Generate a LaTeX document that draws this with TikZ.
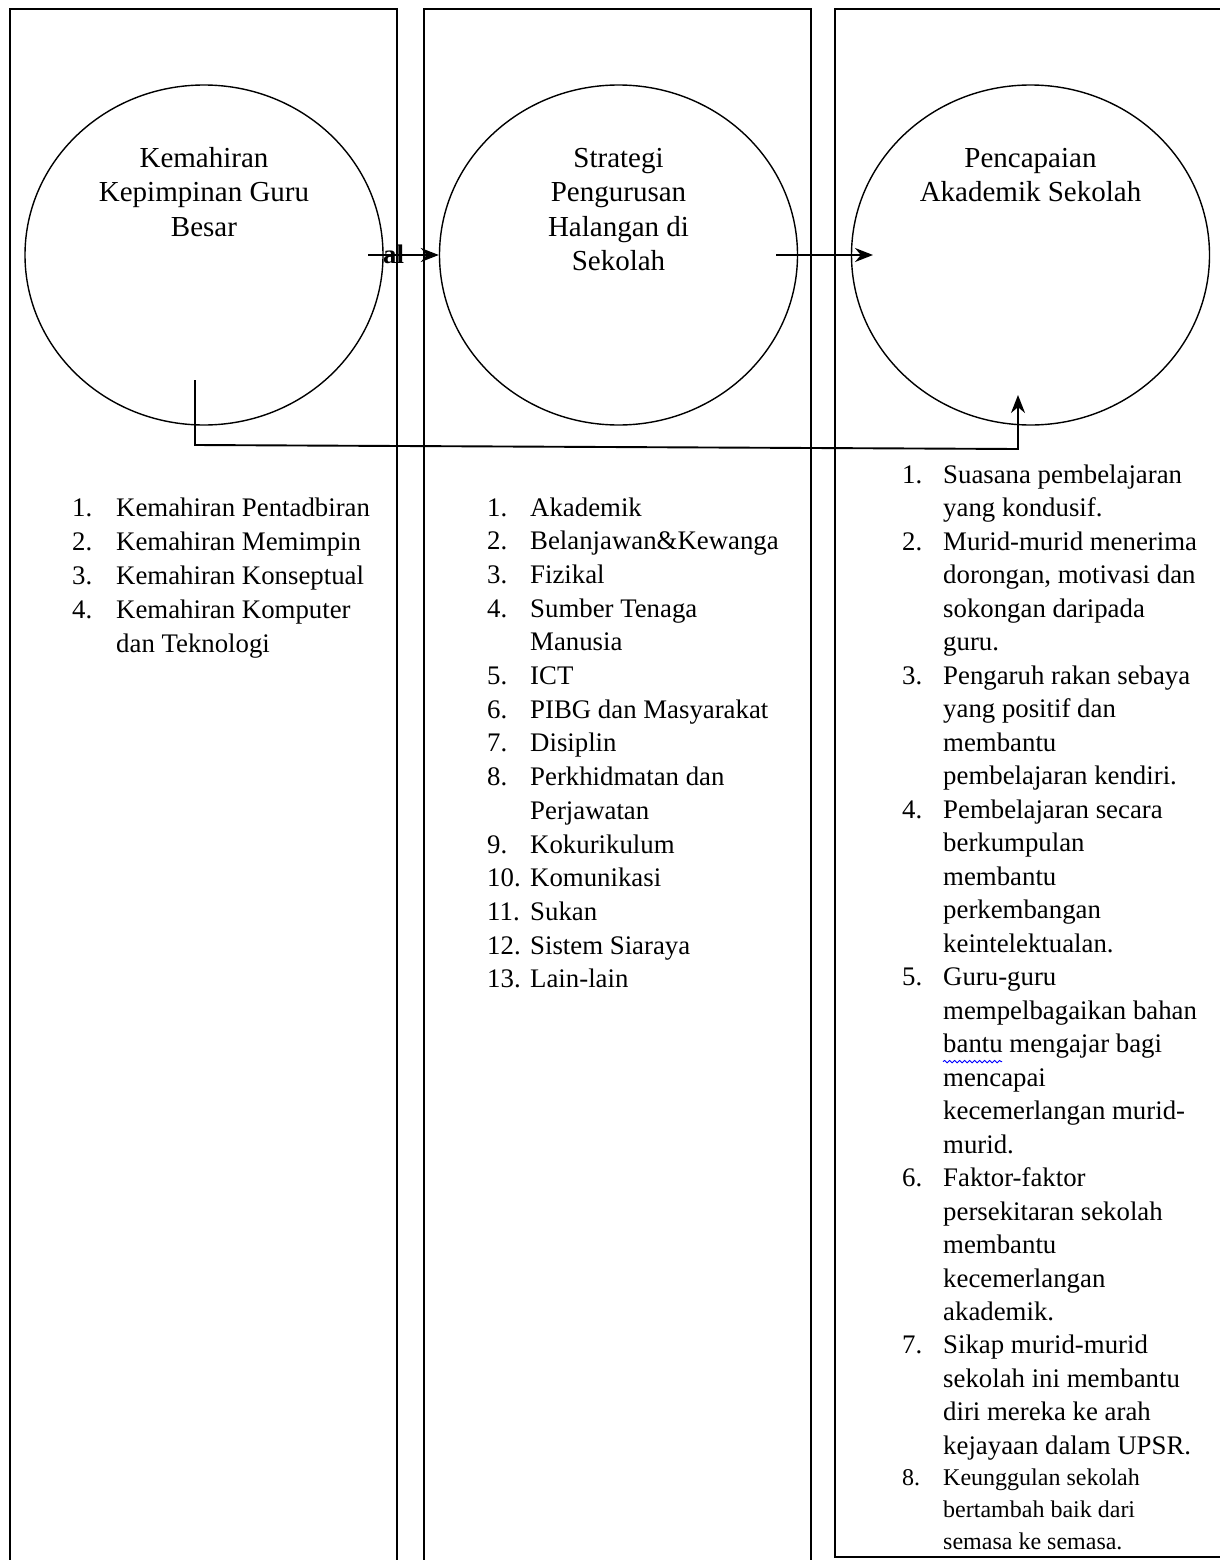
\documentclass[tikz,border=0pt]{standalone}
\usepackage{fontspec}
\setmainfont{Liberation Serif}
\usetikzlibrary{shapes.geometric,arrows.meta,decorations.pathmorphing}
\begin{document}
\begin{tikzpicture}[x=1pt,y=-1pt,
  panel/.style={line width=2.2pt},
  oval/.style={draw, ellipse, line width=1.4pt, minimum width=358pt, minimum height=340pt, inner sep=0pt},
  ctext/.style={font=\fontsize{29}{34.5}\selectfont, anchor=base, inner sep=0pt},
  ltext/.style={font=\fontsize{26.8}{33.5}\selectfont, anchor=base west, inner sep=0pt},
  stext/.style={font=\fontsize{24}{32}\selectfont, anchor=base west, inner sep=0pt},
  link/.style={line width=1.9pt, -{Stealth[length=18pt,width=14pt]}},
]
\useasboundingbox (0,0) rectangle (1219,1560);
% panels
\draw[panel] (10,1562) -- (10,9) -- (397,9) -- (397,1562);
\draw[panel] (424,1562) -- (424,9) -- (811,9) -- (811,1562);
\draw[panel] (1221,9) -- (835,9) -- (835,1557) -- (1221,1557);
% ovals
\node[oval] (c1) at (204,255) {};
\node[oval] (c2) at (618.5,255) {};
\node[oval] (c3) at (1030.5,255) {};
% oval texts
\node[ctext] (t11) at (204,167) {Kemahiran};
\node[ctext] (t12) at (204,201.5) {Kepimpinan Guru};
\node[ctext] (t13) at (204,236) {Besar};
\node[ctext] (t21) at (618.5,167) {Strategi};
\node[ctext] (t22) at (618.5,201.5) {Pengurusan};
\node[ctext] (t23) at (618.5,236) {Halangan di};
\node[ctext] (t24) at (618.5,270.5) {Sekolah};
\node[ctext] (t31) at (1030.5,167) {Pencapaian};
\node[ctext] (t32) at (1030.5,201.5) {Akademik Sekolah};
% connectors
\coordinate (a1s) at (368,255);
\draw[link] (a1s) -- (c2.west);
\node[ltext, font=\fontsize{26.8}{33.5}\selectfont\bfseries] (al) at (383,263) {al};
\coordinate (a2s) at (776,255);
\coordinate (a2e) at (873,255);
\draw[link] (a2s) -- (a2e);
\coordinate (b1) at (195,380);
\coordinate (b2) at (1018,395);
\draw[link] (b1) -- ++(0,65) -- (1018,449) -- (b2);
% list 1
\foreach \t [count=\i] in {Kemahiran Pentadbiran, Kemahiran Memimpin, Kemahiran Konseptual, Kemahiran Komputer, dan Teknologi}
  \node[ltext] (p\i) at (116, 516+34*\i-34) {\t};
\foreach \k in {1,2,3,4}
  \node[ltext] (pn\k) at (72, 516+34*\k-34) {\k.};
% list 2
\foreach \t [count=\i] in {Akademik, Belanjawan\&Kewanga, Fizikal, Sumber Tenaga, Manusia, ICT, PIBG dan Masyarakat, Disiplin, Perkhidmatan dan, Perjawatan, Kokurikulum, Komunikasi, Sukan, Sistem Siaraya, Lain-lain}
  \node[ltext] (q\i) at (530, 516+33.7*\i-33.7) {\t};
\foreach \k/\l in {1/1, 2/2, 3/3, 4/4, 5/6, 6/7, 7/8, 8/9, 9/11, 10/12, 11/13, 12/14, 13/15}
  \node[ltext] (qn\k) at (487, 516+33.7*\l-33.7) {\k.};
% list 3
\foreach \t [count=\i] in {Suasana pembelajaran, yang kondusif., Murid-murid menerima, {dorongan, motivasi dan}, sokongan daripada, guru., Pengaruh rakan sebaya, yang positif dan, membantu, pembelajaran kendiri., Pembelajaran secara, berkumpulan, membantu, perkembangan, keintelektualan., Guru-guru, mempelbagaikan bahan, bantu mengajar bagi, mencapai, kecemerlangan murid-, murid., Faktor-faktor, persekitaran sekolah, membantu, kecemerlangan, akademik., Sikap murid-murid, sekolah ini membantu, diri mereka ke arah, kejayaan dalam UPSR.}
  \node[ltext] (r\i) at (943, 483.5+33.48*\i-33.48) {\t};
\foreach \k/\l in {1/1, 2/3, 3/7, 4/11, 5/16, 6/22, 7/27}
  \node[ltext] (rn\k) at (902, 483.5+33.48*\l-33.48) {\k.};
\node[stext] (rn8) at (902,1485) {8.};
\node[stext] (s1) at (943,1485) {Keunggulan sekolah};
\node[stext] (s2) at (943,1517) {bertambah baik dari};
\node[stext] (s3) at (943,1549) {semasa ke semasa.};
% spell-check squiggle
\draw[blue, line width=0.9pt, decorate, decoration={snake, amplitude=1.2pt, segment length=5pt}] (r18.south west) ++(0,3) -- ++(59,0);
\end{tikzpicture}
\end{document}
